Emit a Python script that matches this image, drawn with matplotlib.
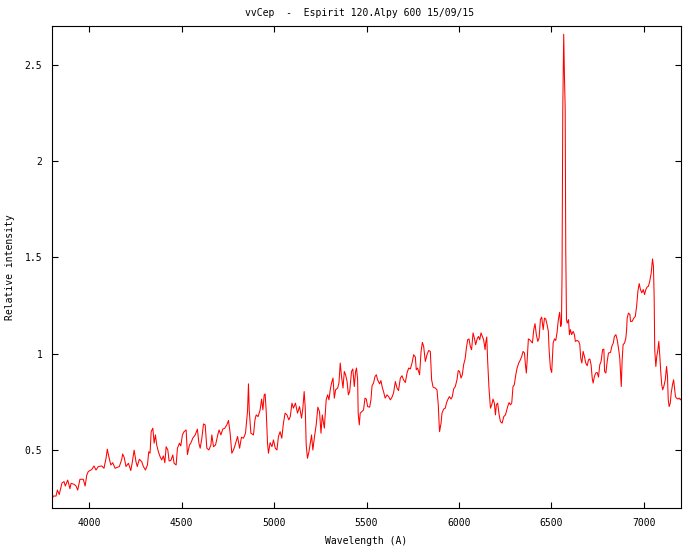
import numpy as np
import matplotlib
matplotlib.use("Agg")
import matplotlib.pyplot as plt

# spectre vvCep (longueur d'onde en A, intensite relative)
wl = [3802, 3807, 3822, 3829, 3839, 3854, 3865, 3872, 3885, 3897, 3903, 3919, 3930, 3939, 3951,
      3969, 3979, 3988, 3996, 4015, 4027, 4038, 4050, 4069, 4081, 4092, 4099, 4107, 4118, 4128,
      4141, 4164, 4177, 4182, 4190, 4200, 4213, 4226, 4233, 4244, 4254, 4261, 4272, 4285, 4294,
      4305, 4316, 4323, 4330,
      4336, 4345, 4352, 4359, 4366, 4375, 4384, 4393, 4402, 4410, 4417, 4426, 4433, 4442, 4453,
      4460, 4471, 4478, 4489, 4496, 4505, 4514, 4525, 4532, 4543, 4550, 4561, 4574, 4586, 4594,
      4601, 4610, 4619, 4628, 4637, 4648, 4659, 4664, 4673, 4684, 4696, 4703, 4713, 4723, 4734,
      4745, 4754, 4763, 4772, 4781, 4790, 4803, 4814, 4824, 4835, 4846, 4857, 4862, 4866, 4875,
      4889, 4897, 4904, 4914, 4925, 4933, 4940, 4947, 4952, 4958, 4965, 4970, 4979, 4989, 4997,
      5007, 5016, 5024, 5033, 5042, 5051, 5060, 5070, 5080, 5088, 5097, 5105, 5116, 5127, 5138,
      5149, 5156, 5163, 5169, 5174, 5181, 5189, 5196, 5203, 5210, 5219, 5228, 5237, 5246, 5254,
      5261, 5272, 5282, 5290, 5297, 5304, 5311, 5319, 5326, 5333, 5344, 5351, 5358, 5365, 5373,
      5380, 5387, 5395, 5402, 5409,
      5419, 5426, 5434, 5441, 5446, 5452, 5455, 5461, 5466, 5475, 5484, 5492, 5499, 5506, 5517,
      5524, 5530, 5538, 5546, 5553, 5560, 5571, 5578, 5585, 5592, 5601, 5611, 5619, 5629, 5638,
      5646, 5656, 5665, 5673, 5683, 5692, 5700, 5710, 5719, 5728, 5737, 5746, 5755, 5764, 5769,
      5776, 5787, 5795, 5802, 5809, 5818, 5827, 5836, 5845, 5852, 5860, 5872, 5881, 5888, 5892,
      5895, 5903,
      5908, 5917, 5926, 5932, 5939, 5948, 5957, 5964, 5971, 5980, 5989, 5996, 6003, 6011, 6018,
      6025, 6033, 6040, 6047, 6054, 6061, 6068, 6076, 6083, 6090, 6098, 6105, 6112, 6119, 6126,
      6133, 6141, 6144, 6150, 6155, 6162, 6170, 6177, 6184, 6191, 6197, 6202, 6209, 6217, 6224,
      6233,
      6242, 6251, 6256, 6263, 6271, 6278, 6285, 6292, 6299, 6307, 6314, 6323, 6332, 6339, 6346,
      6354, 6359, 6364, 6368, 6375, 6382, 6390, 6397, 6404, 6411, 6418, 6426, 6433, 6440, 6447,
      6455, 6462, 6469, 6476, 6483, 6487, 6494, 6501, 6509, 6516, 6523, 6530, 6537, 6544, 6550,
      6554, 6557, 6561, 6566, 6570, 6574, 6577, 6581, 6585, 6592, 6597, 6602, 6609, 6617, 6624,
      6629, 6638, 6647, 6653, 6658, 6664, 6671, 6678, 6685, 6693, 6700, 6707, 6714,
      6720, 6725, 6732, 6739, 6747, 6754, 6761, 6768, 6776, 6783, 6787, 6794, 6801, 6808, 6819,
      6826, 6834, 6840, 6848, 6855, 6862, 6869, 6873, 6877, 6882, 6887, 6895, 6902, 6906, 6909,
      6916, 6924, 6927, 6936, 6945, 6953, 6960, 6967, 6974, 6981, 6988, 6996, 7003, 7010, 7017,
      7024, 7031, 7039, 7046, 7051, 7055, 7058, 7064, 7069, 7075, 7080, 7085, 7091, 7096, 7101,
      7107, 7115, 7122, 7127, 7131, 7136, 7142, 7147, 7154, 7160, 7165, 7170, 7176, 7183, 7190,
      7197, 7203]

intens = [0.250, 0.262, 0.262, 0.293, 0.270, 0.330, 0.337, 0.314, 0.345, 0.300, 0.328, 0.323, 0.314, 0.293, 0.349,
          0.349, 0.314, 0.371, 0.389, 0.400, 0.418, 0.397, 0.415, 0.418, 0.406, 0.458, 0.505, 0.467, 0.423, 0.435,
          0.406, 0.415, 0.453, 0.480, 0.463, 0.415, 0.432, 0.394, 0.432, 0.500, 0.440, 0.415, 0.453, 0.440, 0.415,
          0.397, 0.423, 0.492, 0.484,
          0.596, 0.614, 0.536, 0.579, 0.527, 0.492, 0.467, 0.449, 0.470, 0.435, 0.518, 0.501, 0.444, 0.446, 0.475,
          0.432, 0.423, 0.510, 0.536, 0.522, 0.579, 0.596, 0.605, 0.477, 0.527, 0.536, 0.562, 0.579, 0.609, 0.536,
          0.510, 0.562, 0.636, 0.631, 0.510, 0.501, 0.527, 0.579, 0.518, 0.527, 0.579, 0.605, 0.579, 0.609, 0.614,
          0.631, 0.654, 0.588, 0.484, 0.501, 0.527, 0.571, 0.510, 0.567, 0.562, 0.588, 0.704, 0.844, 0.709, 0.588,
          0.579, 0.657, 0.683, 0.674, 0.709, 0.765, 0.709, 0.787, 0.792, 0.700, 0.536, 0.484, 0.539, 0.518, 0.553,
          0.510, 0.501, 0.571, 0.596, 0.562, 0.640, 0.692, 0.683, 0.657, 0.674, 0.744, 0.718, 0.744, 0.692, 0.726,
          0.666, 0.718, 0.804, 0.718, 0.527, 0.458, 0.492, 0.536, 0.579, 0.501, 0.571, 0.631, 0.723, 0.700, 0.588,
          0.683, 0.614, 0.761, 0.787, 0.761, 0.813, 0.848, 0.874, 0.770, 0.813, 0.822, 0.848, 0.952, 0.882, 0.822,
          0.908, 0.891, 0.856, 0.787, 0.804,
          0.908, 0.921, 0.830, 0.908, 0.926, 0.865, 0.692, 0.631, 0.692, 0.700, 0.709, 0.770, 0.765, 0.726, 0.723,
          0.761, 0.834, 0.848, 0.882, 0.891, 0.865, 0.844, 0.861, 0.827, 0.804, 0.770, 0.787, 0.778, 0.761, 0.775,
          0.796, 0.856, 0.822, 0.809, 0.874, 0.886, 0.865, 0.851, 0.900, 0.926, 0.921, 0.952, 0.995, 0.983, 0.917,
          0.926, 0.891, 1.012, 1.059, 1.038, 0.960, 0.995, 1.017, 1.012, 0.865, 0.827, 0.822, 0.813, 0.735, 0.648,
          0.596, 0.640,
          0.692, 0.713, 0.718, 0.744, 0.761, 0.778, 0.765, 0.778, 0.817, 0.830, 0.865, 0.913, 0.908, 0.874, 0.891,
          0.943, 0.973, 1.030, 1.073, 1.077, 1.038, 1.021, 1.108, 1.082, 1.047, 1.077, 1.090, 1.073, 1.108, 1.090,
          1.073, 1.021, 1.056, 1.087, 0.960, 0.822, 0.718, 0.735, 0.765, 0.744, 0.683, 0.735, 0.744, 0.683, 0.648,
          0.640,
          0.674, 0.683, 0.700, 0.726, 0.747, 0.735, 0.744, 0.830, 0.839, 0.891, 0.926, 0.952, 0.969, 0.986, 1.012,
          1.004, 0.943, 0.900, 0.960, 1.077, 1.073, 1.064, 1.056, 1.125, 1.156, 1.099, 1.064, 1.082, 1.177, 1.190,
          1.125, 1.185, 1.180, 1.151, 1.116, 1.021, 0.926, 0.903, 1.056, 1.077, 1.069, 1.111, 1.177, 1.215, 1.142,
          1.159, 1.419, 2.268, 2.657, 2.440, 2.270, 1.540, 1.177, 1.159, 1.177, 1.099, 1.125, 1.099, 1.116, 1.099,
          1.064, 1.069, 1.064, 1.047, 0.978, 0.952, 1.012, 0.986, 0.952, 0.938, 0.969, 0.973, 0.943,
          0.874, 0.848, 0.882, 0.900, 0.903, 0.879, 0.943, 0.960, 1.021, 1.024, 0.908, 0.900, 0.960, 1.004, 1.007,
          1.038, 1.056, 1.090, 1.099, 1.073, 1.030, 0.978, 0.900, 0.830, 0.969, 1.047, 1.056, 1.082, 1.125, 1.185,
          1.211, 1.203, 1.168, 1.168, 1.185, 1.194, 1.246, 1.324, 1.364, 1.333, 1.316, 1.333, 1.307, 1.333, 1.346,
          1.350, 1.376, 1.419, 1.492, 1.454, 1.290, 1.021, 0.934, 0.986, 1.021, 1.064, 0.995, 0.900, 0.839, 0.813,
          0.830, 0.865, 0.934, 0.882, 0.761, 0.726, 0.744, 0.796, 0.839, 0.865, 0.822, 0.778, 0.770, 0.765, 0.770,
          0.761, 0.770]

xticks = [4000, 4500, 5000, 5500, 6000, 6500, 7000]
yticks = [0.5, 1, 1.5, 2, 2.5]
ytick_labels = ["0.5", "1", "1.5", "2", "2.5"]

plt.rcParams['font.family'] = ['DejaVu Sans Mono']
plt.rcParams['font.size'] = 7

fig = plt.figure(figsize=(7, 5.5), dpi=100)
ax = fig.add_axes([52/700, 1 - 508/550, 629/700, 482/550])

# trait fin rouge (1 px), comme le png de gnuplot
ax.plot(wl, intens, color='#ff0000', lw=0.75)

ax.set_xlim(3800, 7200)
ax.set_ylim(0.2, 2.7)
ax.set_xticks(xticks)
ax.set_yticks(yticks)
ax.set_yticklabels(ytick_labels)
ax.tick_params(direction='in', length=4, width=0.8, top=True, right=True, pad=7)
for sp in ax.spines.values():
    sp.set_linewidth(0.8)

ax.set_xlabel('Wavelength (A)', labelpad=6)
ax.set_ylabel('Relative intensity', labelpad=7)
fig.text(0.513, 0.977, 'vvCep  -  Espirit 120.Alpy 600 15/09/15', ha='center', va='center')

fig.savefig('out.png', dpi=100)
